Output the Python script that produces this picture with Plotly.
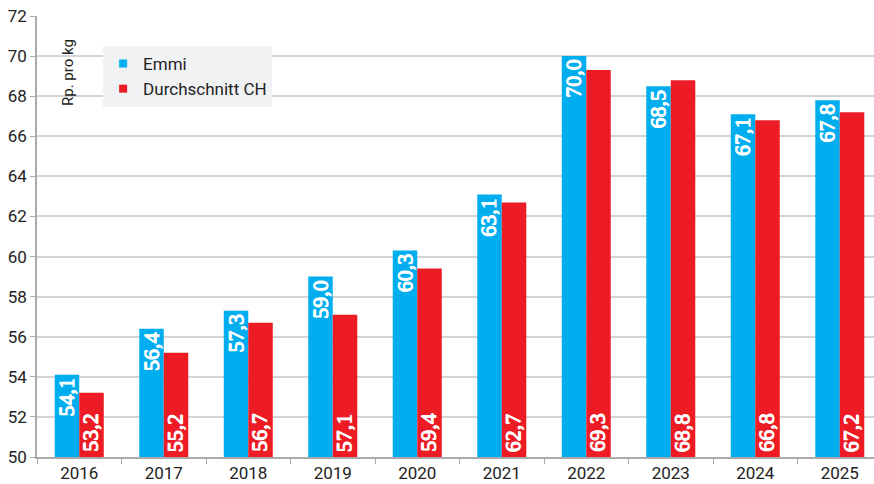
import plotly.graph_objects as go

years = ["2016", "2017", "2018", "2019", "2020", "2021", "2022", "2023", "2024", "2025"]
emmi = [54.1, 56.4, 57.3, 59.0, 60.3, 63.1, 70.0, 68.5, 67.1, 67.8]
durchschnitt_ch = [53.2, 55.2, 56.7, 57.1, 59.4, 62.7, 69.3, 68.8, 66.8, 67.2]
y_ticks = [50, 52, 54, 56, 58, 60, 62, 64, 66, 68, 70, 72]
y_min, y_max = 50, 72

BLUE = "#00AEEF"
RED = "#ED1C24"
TEXT = "#222222"
label_font = dict(family="Liberation Sans Narrow", size=22, color="white",
                  shadow="0.5px 0 0 white, -0.5px 0 0 white, 0 0.5px 0 white, 0 -0.5px 0 white")

BAR_GAP = 0.42
PLOT_W = 837
X_RANGE = [-0.5, 9.405]
band_px = PLOT_W / (X_RANGE[1] - X_RANGE[0])
bar_px = band_px * (1 - BAR_GAP) / 2


def fmt(v):
    return f"{v:.1f}".replace(".", ",")


fig = go.Figure()
fig.add_trace(go.Bar(x=years, y=emmi, name="Emmi", marker=dict(color=BLUE, line_width=0),
                     showlegend=False))
fig.add_trace(go.Bar(x=years, y=durchschnitt_ch, name="Durchschnitt CH",
                     marker=dict(color=RED, line_width=0), showlegend=False))
fig.add_trace(go.Scatter(x=[None], y=[None], mode="markers", name="Emmi",
                         marker=dict(symbol="square", size=8, color=BLUE)))
fig.add_trace(go.Scatter(x=[None], y=[None], mode="markers", name="Durchschnitt CH",
                         marker=dict(symbol="square", size=8, color=RED)))

annotations = []
for i, v in enumerate(emmi):
    annotations.append(dict(
        x=i, y=v, xref="x", yref="y", text=fmt(v), showarrow=False,
        textangle=-90, xanchor="center", yanchor="top",
        xshift=round(-bar_px / 2 - 1), yshift=-1, font=label_font,
    ))
for i, v in enumerate(durchschnitt_ch):
    annotations.append(dict(
        x=i, y=y_min, xref="x", yref="y", text=fmt(v), showarrow=False,
        textangle=-90, xanchor="center", yanchor="bottom",
        xshift=round(bar_px / 2 - 1), yshift=3, font=label_font,
    ))
annotations.append(dict(
    text="Rp. pro kg", xref="paper", yref="paper",
    x=0.037, y=0.873, xanchor="center", yanchor="middle",
    textangle=-90, showarrow=False,
    font=dict(size=15, color=TEXT),
))

fig.update_layout(
    width=874, height=484,
    margin=dict(l=37, r=0, t=16, b=27),
    paper_bgcolor="white", plot_bgcolor="white",
    barmode="group", bargap=BAR_GAP, bargroupgap=0,
    font=dict(family="Roboto", size=17, color=TEXT),
    legend=dict(
        x=0.079, y=0.932, xanchor="left", yanchor="top",
        bgcolor="#F1F2F4", font=dict(size=17, color=TEXT),
        itemwidth=30, tracegroupgap=0,
        entrywidth=147, entrywidthmode="pixels",
    ),
    xaxis=dict(
        type="category", range=X_RANGE,
        showline=True, linecolor="#AAAAAA", linewidth=1.5,
        ticks="outside", tickson="boundaries", ticklen=5, tickcolor="#AAAAAA",
        showgrid=False, tickfont=dict(size=17),
    ),
    yaxis=dict(
        range=[y_min, y_max], tickvals=y_ticks,
        showline=True, linecolor="#AAAAAA", linewidth=1.5,
        ticks="outside", ticklen=5, tickcolor="#AAAAAA",
        showgrid=True, gridcolor="#D4D4D4", gridwidth=2,
        zeroline=False, tickfont=dict(size=17),
    ),
    annotations=annotations,
)

fig.write_html("out.html", config={"displayModeBar": False},
               post_script="document.body.style.margin='0';")
